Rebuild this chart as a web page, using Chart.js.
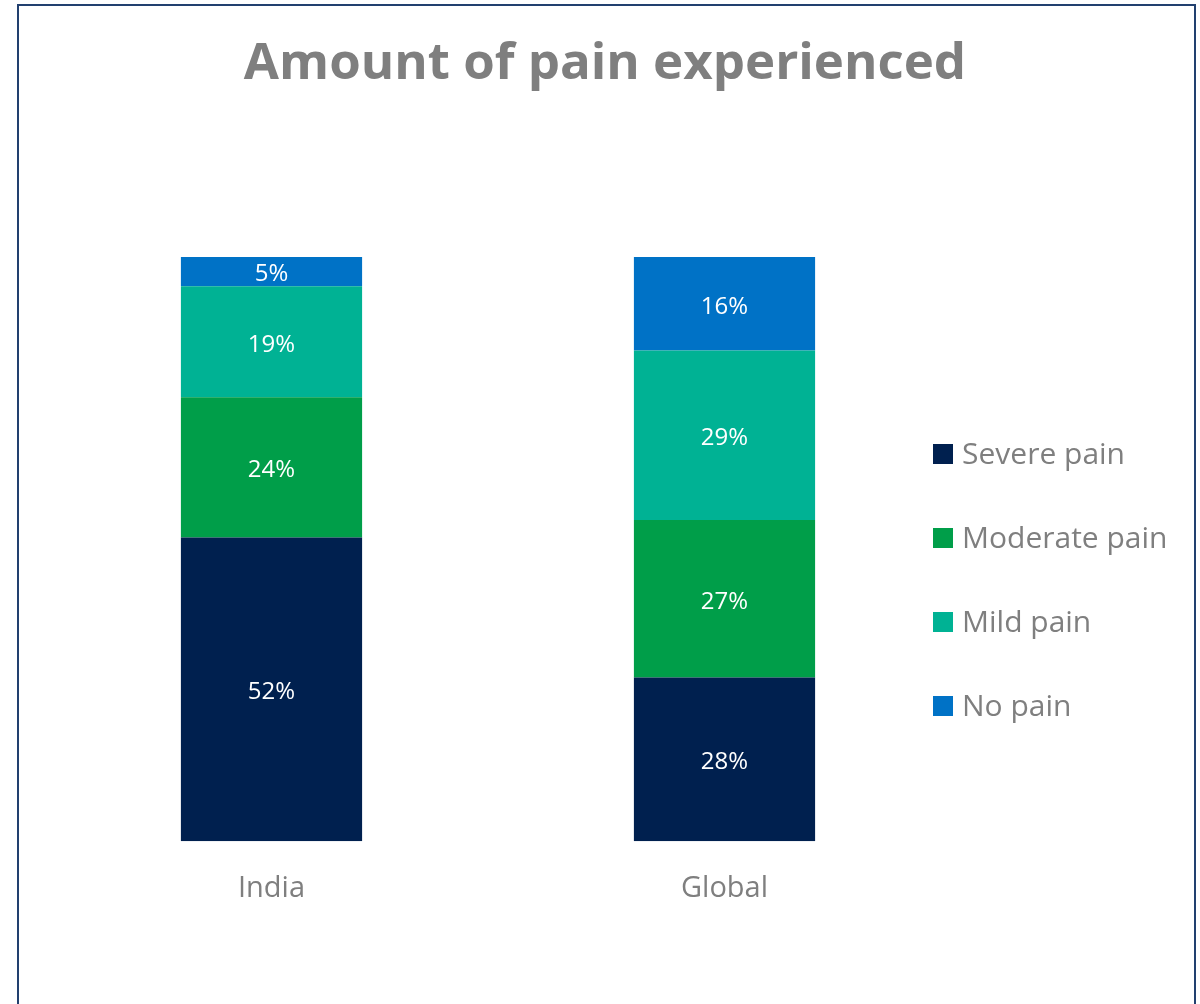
<!DOCTYPE html>
<html>
<head>
<meta charset="utf-8">
<title>Amount of pain experienced</title>
<script src="https://cdn.jsdelivr.net/npm/chart.js@4"></script>
<style>
    html, body { margin: 0; padding: 0; overflow: hidden; background: #fff; }
    #wrap { position: relative; width: 1200px; height: 1004px; }
    #frame {
        position: absolute; left: 17px; top: 4px;
        width: 1175px; height: 1100px;
        border: 2px solid #22406f;
        pointer-events: none;
    }
</style>
</head>
<body>
<div id="wrap">
    <canvas id="myChart" width="1200" height="1004"></canvas>
    <div id="frame"></div>
</div>
<script>
const categories = ['India', 'Global'];
const seriesNames = ['Severe pain', 'Moderate pain', 'Mild pain', 'No pain'];
const severe = [52, 28];
const moderate = [24, 27];
const mild = [19, 29];
const noPain = [5, 16];
const colors = ['#00204f', '#009e49', '#00b294', '#0072c6'];

const GREY = '#7f7f7f';
const FONT = '"Open Sans", "Noto Sans", sans-serif';

// title, value labels and legend drawn straight onto the canvas
const extras = {
    id: 'extras',
    afterDatasetsDraw(chart) {
        const ctx = chart.ctx;
        ctx.save();

        // value labels in the middle of each segment
        ctx.fillStyle = '#ffffff';
        ctx.font = '24px ' + FONT;
        ctx.textAlign = 'center';
        ctx.textBaseline = 'middle';
        chart.data.datasets.forEach((ds, i) => {
            chart.getDatasetMeta(i).data.forEach((bar, j) => {
                const mid = (bar.y + bar.base) / 2;
                ctx.fillText(ds.data[j] + '%', bar.x, mid + 3);
            });
        });

        // title
        ctx.fillStyle = GREY;
        ctx.font = 'bold 51px ' + FONT;
        ctx.fillText('Amount of pain experienced', 605, 64);

        // legend
        ctx.textAlign = 'left';
        ctx.font = '30px ' + FONT;
        chart.data.datasets.forEach((ds, i) => {
            const y = 453.5 + i * 84.3;
            ctx.fillStyle = ds.backgroundColor;
            ctx.fillRect(933, Math.round(y - 10), 20, 20);
            ctx.fillStyle = GREY;
            ctx.fillText(ds.label, 962, y + 1.5);
        });
        ctx.restore();
    }
};

const seriesData = [severe, moderate, mild, noPain];

new Chart(document.getElementById('myChart'), {
    type: 'bar',
    data: {
        labels: categories,
        datasets: seriesNames.map((name, i) => ({
            label: name,
            data: seriesData[i],
            backgroundColor: colors[i],
            borderWidth: 0,
            barPercentage: 0.4,
            categoryPercentage: 1.0
        }))
    },
    options: {
        responsive: false,
        animation: false,
        layout: { padding: { top: 257, left: 45, right: 249, bottom: 68 } },
        plugins: {
            legend: { display: false },
            title: { display: false },
            tooltip: { enabled: false }
        },
        scales: {
            x: {
                stacked: true,
                grid: { display: false, drawTicks: false },
                border: { display: false },
                ticks: { color: GREY, padding: 30, font: { family: FONT, size: 29 } }
            },
            y: {
                stacked: true,
                display: false,
                min: 0,
                max: 100
            }
        }
    },
    plugins: [extras]
});
</script>
</body>
</html>
